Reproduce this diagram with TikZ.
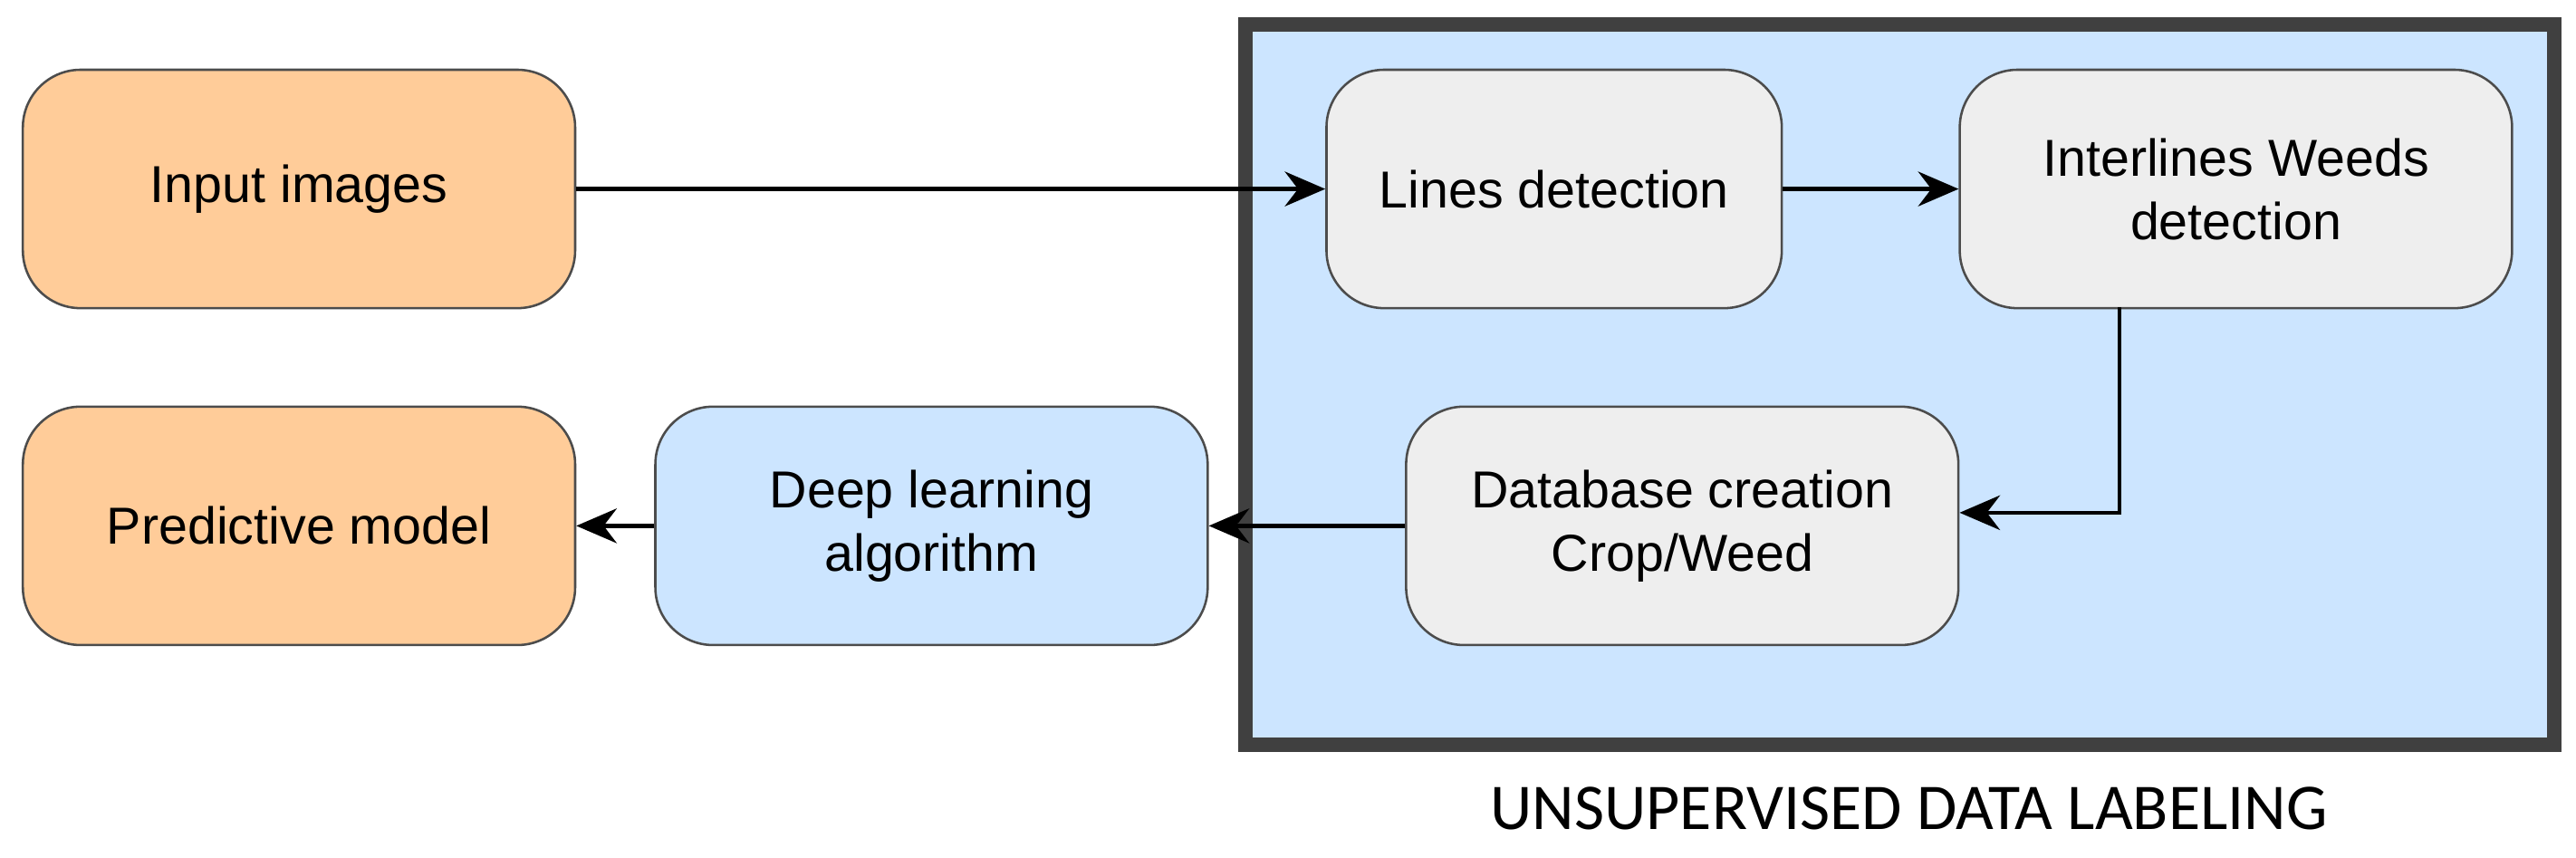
\documentclass[tikz,border=0pt]{standalone}
\usepackage{fontspec}
\setmainfont{Liberation Sans}
\newfontfamily\capfont{Carlito}
\usetikzlibrary{arrows.meta}
\definecolor{orangefill}{HTML}{FFCC99}
\definecolor{bluefill}{HTML}{CCE5FF}
\definecolor{grayfill}{HTML}{EEEEEE}
\tikzset{
  block/.style = {draw=black!70, rounded corners=10pt, minimum width=3.36cm,
    minimum height=1.45cm, align=center, font=\fontsize{9pt}{11pt}\selectfont},
  link/.style = {-{Stealth[length=7pt,width=6pt]}, line width=0.7pt}
}
\begin{document}
\begin{tikzpicture}[x=0.01cm, y=-0.01cm]
  \useasboundingbox (0,0) rectangle (1568,522);
  % unsupervised labelling frame
  \draw[fill=bluefill, draw=black!75, line width=2.5pt] (758,15) rectangle (1555,453);
  \node[font=\capfont\fontsize{11.3pt}{13pt}\selectfont] (cap) at (1162,492) {UNSUPERVISED DATA LABELING};
  % blocks
  \node[block, fill=orangefill] (input) at (182,115) {Input images};
  \node[block, fill=orangefill] (pred) at (182,320) {Predictive model};
  \node[block, fill=bluefill] (deep) at (567,320) {Deep learning\\algorithm};
  \node[block, fill=grayfill, minimum width=2.77cm] (lines) at (946,115) {Lines detection};
  \node[block, fill=grayfill] (inter) at (1361,115) {Interlines Weeds\\detection};
  \node[block, fill=grayfill] (db) at (1024,320) {Database creation\\Crop/Weed};
  \coordinate (down) at (1290,187);
  % connectors
  \draw[link] (input) -- (lines);
  \draw[link] (lines) -- (inter);
  \draw[link] (down) |- ([yshift=0.08cm]db.east);
  \draw[link] (db) -- (deep);
  \draw[link] (deep) -- (pred);
\end{tikzpicture}
\end{document}
